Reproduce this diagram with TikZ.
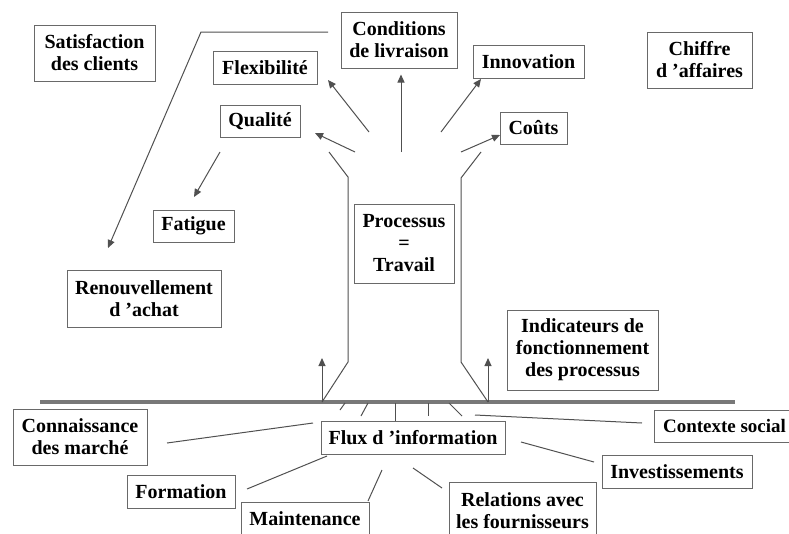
\documentclass[tikz,border=0pt]{standalone}
\usepackage{fontspec}
\setmainfont{Liberation Serif}
\usepackage{xcolor}
\usepackage{tikz}
\usetikzlibrary{arrows.meta,positioning,calc}
\definecolor{boxgray}{RGB}{105, 105, 105}
\definecolor{linegray}{RGB}{80, 80, 80}
\definecolor{groundgray}{RGB}{120, 120, 120}
\tikzset{
  factorbox/.style={
    draw=boxgray,
    line width=1pt,
    fill=white,
    align=center,
    inner sep=0.5pt,
    font=\fontsize{20}{22}\selectfont\bfseries
  },
  factorarrow/.style={
    -{Triangle[length=8pt,width=7pt]},
    line width=1pt,
    draw=linegray
  },
  factorline/.style={
    line width=1pt,
    draw=linegray
  }
}

\begin{document}
\begin{tikzpicture}[x=1pt,y=-1pt]
  \useasboundingbox (0,0) rectangle (789,533);

  % boxes
  \node[factorbox, minimum width=121, minimum height=56] (satis) at (94.5,53) {Satisfaction\\des clients};
  \node[factorbox, minimum width=116, minimum height=56] (cond) at (399,40) {Conditions\\de livraison};
  \node[factorbox, minimum width=104, minimum height=33] (flex) at (265,67.5) {Flexibilité};
  \node[factorbox, minimum width=80, minimum height=32] (qual) at (260,121) {Qualité};
  \node[factorbox, minimum width=81, minimum height=32] (fatig) at (193.5,226) {Fatigue};
  \node[factorbox, minimum width=111, minimum height=33] (innov) at (528.5,61.5) {Innovation};
  \node[factorbox, minimum width=67, minimum height=32] (couts) at (533.5,128) {Coûts};
  \node[factorbox, minimum width=105, minimum height=56] (chiffre) at (699.5,60) {Chiffre\\d 'affaires};
  \node[factorbox, minimum width=100, minimum height=79] (proc) at (404,243.5) {Processus\\=\\Travail};
  \node[factorbox, minimum width=154, minimum height=57] (renouv) at (144,298.5) {Renouvellement\\d 'achat};
  \node[factorbox, minimum width=151, minimum height=80] (indic) at (582.5,350) {Indicateurs de\\fonctionnement\\des processus};
  \node[factorbox, minimum width=134, minimum height=56] (connais) at (80,437) {Connaissance\\des marché};
  \node[factorbox, minimum width=184, minimum height=33] (flux) at (413,437.5) {Flux d 'information};
  \node[factorbox, minimum width=108, minimum height=33] (form) at (181,491.5) {Formation};
  \node[factorbox, minimum width=128, minimum height=34] (maint) at (305,519) {Maintenance};
  \node[factorbox, minimum width=147, minimum height=58] (relat) at (522.5,511) {Relations avec\\les fournisseurs};
  \node[factorbox, minimum width=150, minimum height=33] (invest) at (677,471.5) {Investissements};
  \node[factorbox, minimum width=140, minimum height=32, anchor=west,
        font=\fontsize{19}{22}\selectfont\bfseries] (contexte) at (654,426) {Contexte social};

  % tree and ground
  \draw[line width=3.5pt, groundgray] (40,402) -- (735,402);
  \draw[factorline] (329,152) -- (348,177) -- (348,362) -- (322,402);
  \draw[factorline] (481,152) -- (461,178) -- (461,362) -- (488,402);

  % arrow ends
  \coordinate (tflex) at (369,132);
  \coordinate (hflex) at (328,80);
  \coordinate (tqual) at (355,152);
  \coordinate (hqual) at (315,133);
  \coordinate (tcond) at (401,152);
  \coordinate (tinnov) at (441,132);
  \coordinate (hinnov) at (481,79);
  \coordinate (tcouts) at (461,152);
  \coordinate (hcouts) at (500,135);
  \coordinate (qfrom) at (220,152);
  \coordinate (hfatig) at (194,197);
  \coordinate (lstart) at (328,32);
  \coordinate (lbend) at (201,32);
  \coordinate (hrenouv) at (108,248);
  \coordinate (rootl) at (322,402);
  \coordinate (rootr) at (488,402);

  \draw[factorarrow] (tflex) -- (hflex);
  \draw[factorarrow] (tqual) -- (hqual);
  \draw[factorarrow, shorten >=6pt] (tcond) -- (tcond |- cond.south);
  \draw[factorarrow] (tinnov) -- (hinnov);
  \draw[factorarrow] (tcouts) -- (hcouts);
  \draw[factorarrow] (qfrom) -- (hfatig);
  \draw[factorarrow] (lstart) -- (lbend) -- (hrenouv);
  \draw[factorarrow] (rootl) -- ++(0,-44);
  \draw[factorarrow] (rootr) -- ++(0,-44);

  % roots under the ground
  \coordinate (rmid) at (395,403);
  \draw[factorline] (345,403) -- (340,410);
  \draw[factorline] (368,403) -- (361,416);
  \draw[factorline] (rmid) -- (rmid |- flux.north);
  \draw[factorline] (428,403) -- (428,416);
  \draw[factorline] (449,403) -- (462,416);

  \coordinate (cxa) at (475,415);
  \coordinate (cxb) at (642,423);
  \coordinate (cna) at (167,443);
  \coordinate (cnb) at (313,423);
  \coordinate (foa) at (247,489);
  \coordinate (fob) at (327,456);
  \coordinate (maa) at (382,470);
  \coordinate (mab) at (368,501);
  \coordinate (rea) at (413,468);
  \coordinate (reb) at (442,488);
  \coordinate (ina) at (521,442);
  \coordinate (inb) at (594,462);
  \draw[factorline] (cxa) -- (cxb);
  \draw[factorline] (cna) -- (cnb);
  \draw[factorline] (foa) -- (fob);
  \draw[factorline] (maa) -- (mab);
  \draw[factorline] (rea) -- (reb);
  \draw[factorline] (ina) -- (inb);
\end{tikzpicture}
\end{document}
